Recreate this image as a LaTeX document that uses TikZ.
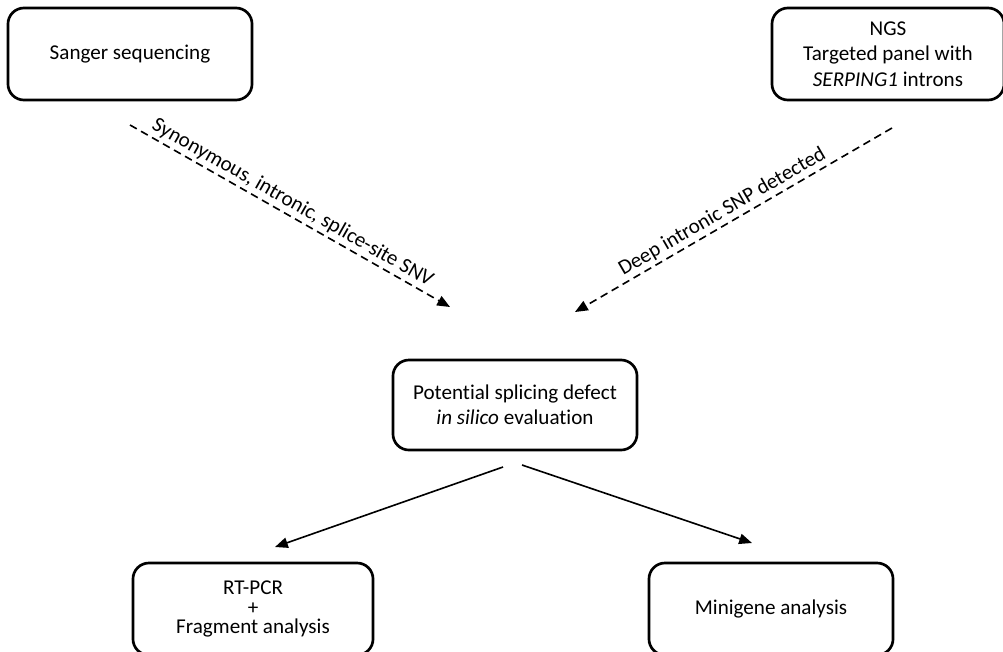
\documentclass[tikz,border=0pt]{standalone}
\usepackage{fontspec}
\setmainfont[Ligatures=NoCommon]{Carlito}
\usepackage{tikz}
\usetikzlibrary{arrows.meta}
\usetikzlibrary{positioning}

\tikzset{
  stagebox/.style={draw, line width=1.9pt, rounded corners=0.4cm, align=center,
    minimum width=6.1cm, minimum height=2.3cm, font=\fontsize{15}{18}\selectfont},
  flow/.style={line width=1.15pt, -{Triangle[length=0.32cm, width=0.26cm]}},
  hint/.style={flow, dash pattern=on 5.5pt off 3.5pt},
  flowlabel/.style={font=\fontsize{15}{18}\selectfont, sloped, above, inner sep=2pt}
}

\begin{document}
\begin{tikzpicture}[x=0.025cm, y=-0.025cm]
      \useasboundingbox (0, 0) rectangle (1003, 651);

      \node [stagebox] (sanger) at (130, 54) {Sanger sequencing};
      \node [stagebox, minimum width=5.8cm] (ngs) at (888, 54) {NGS\\Targeted panel with\\\textit{SERPING1} introns};
      \node [stagebox, minimum height=2.25cm] (eval) at (515, 405) {Potential splicing defect\\\textit{in silico} evaluation};
      \node [stagebox, minimum width=6cm] (rtpcr) at (253, 609) {RT-PCR\\[-4pt]+\\[-4pt]Fragment analysis};
      \node [stagebox] (minigene) at (771, 609) {Minigene analysis};

      \coordinate (sanger-out) at (130, 125);
      \coordinate (eval-in-l) at (450, 307);
      \coordinate (ngs-out) at (892, 128);
      \coordinate (eval-in-r) at (575, 312);
      \coordinate (eval-out-l) at (503, 467);
      \coordinate (rtpcr-in) at (275, 547);
      \coordinate (eval-out-r) at (522, 465);
      \coordinate (minigene-in) at (752, 543);

      \draw [hint] (sanger-out) -- (eval-in-l) node [flowlabel, midway, xshift=-3pt] {Synonymous, intronic, splice-site SNV};
      \draw [hint] (ngs-out) -- (eval-in-r) node [flowlabel, midway, xshift=-4pt] {Deep intronic SNP detected};

      \draw [flow] (eval-out-l) -- (rtpcr-in);
      \draw [flow] (eval-out-r) -- (minigene-in);
    \end{tikzpicture}
\end{document}
